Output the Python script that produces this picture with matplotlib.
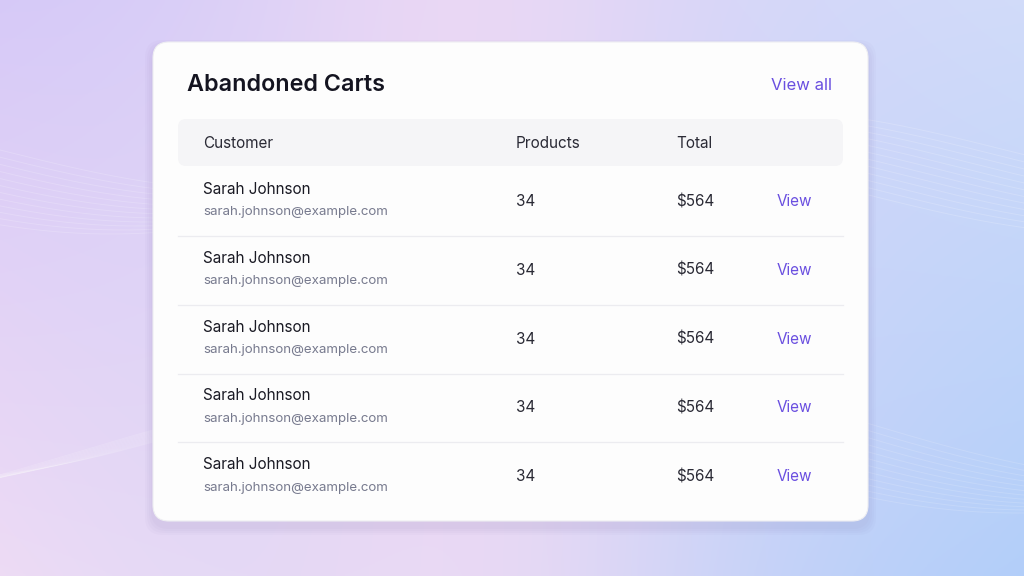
import numpy as np
import matplotlib.pyplot as plt
from matplotlib.patches import FancyBboxPatch

plt.rcParams['font.family'] = ['Inter', 'DejaVu Sans']

title = "Abandoned Carts"
link_text = "View all"
headers = ["Customer", "Products", "Total"]
names = ["Sarah Johnson"] * 5
emails = ["sarah.johnson@example.com"] * 5
products = [34, 34, 34, 34, 34]
totals = ["$564", "$564", "$564", "$564", "$564"]
action = "View"

W, H = 1024, 576
fig = plt.figure(figsize=(W / 100, H / 100), dpi=100)
ax = fig.add_axes([0, 0, 1, 1])
ax.set_xlim(0, W)
ax.set_ylim(H, 0)
ax.axis('off')

# background gradient
yy, xx = np.mgrid[0:1:200j, 0:1:360j]
c_tl = np.array([0.84, 0.79, 0.97])
c_tm = np.array([0.97, 0.86, 0.95])
c_br = np.array([0.70, 0.81, 0.98])
c_bl = np.array([0.93, 0.86, 0.96])
img = ((1 - xx)[..., None] * (1 - yy)[..., None] * c_tl
       + xx[..., None] * (1 - yy)[..., None] * np.array([0.82, 0.86, 0.98])
       + (1 - xx)[..., None] * yy[..., None] * c_bl
       + xx[..., None] * yy[..., None] * c_br)
mid = np.exp(-((xx - 0.45) ** 2) / 0.05)[..., None]
img = img * (1 - 0.6 * mid) + c_tm * 0.6 * mid
ax.imshow(img, extent=[0, W, H, 0], aspect='auto', zorder=0)

# faint wavy lines
t = np.linspace(0, W, 400)
for k in range(12):
    ax.plot(t, 150 + 40 * np.sin(t / 160 + k * 0.08) + k * 4, color='white', alpha=0.18, lw=0.7, zorder=1)
    ax.plot(t, 420 + 60 * np.sin(t / 200 + 2 + k * 0.07) + k * 3, color='white', alpha=0.15, lw=0.7, zorder=1)

# card with shadow
for i, a in enumerate([0.03, 0.03, 0.03, 0.03]):
    s = 4 + i * 4
    ax.add_patch(FancyBboxPatch((153 - s / 2, 48 - s / 2), 715 + s, 479 + s,
                                boxstyle="round,pad=0,rounding_size=18",
                                fc='#7a6aa0', ec='none', alpha=a, zorder=2))
ax.add_patch(FancyBboxPatch((153, 42), 715, 479, boxstyle="round,pad=0,rounding_size=16",
                            fc='#fdfdfd', ec='#eeeef2', lw=0.8, zorder=3))

ax.text(187, 85, title, fontsize=16.8, fontweight='semibold', color='#141420', va='center', zorder=5)
ax.text(832, 85, link_text, fontsize=12, color='#6a4fe0', va='center', ha='right', zorder=5)

# header band
ax.add_patch(FancyBboxPatch((178, 119), 665, 47, boxstyle="round,pad=0,rounding_size=8",
                            fc='#f5f5f7', ec='none', zorder=4))
for h, x in zip(headers, [203, 516, 676]):
    ax.text(x, 143, h, fontsize=11, color='#2a2a35', va='center', zorder=5)

row_h = 68.8
y0 = 201.5
for i in range(len(names)):
    yc = y0 + i * row_h
    ax.text(203, yc - 12, names[i], fontsize=11, color='#1a1a24', va='center', zorder=5)
    ax.text(203, yc + 11, emails[i], fontsize=9.6, color='#777a8e', va='center', zorder=5)
    ax.text(516, yc, str(products[i]), fontsize=11, color='#2a2a35', va='center', zorder=5)
    ax.text(676, yc, totals[i], fontsize=11, color='#2a2a35', va='center', zorder=5)
    ax.text(777, yc, action, fontsize=11, color='#6a4fe0', va='center', zorder=5)
    if i < len(names) - 1:
        ax.plot([178, 843], [yc + row_h / 2, yc + row_h / 2], color='#ececf0', lw=0.9, zorder=5)

fig.savefig('out.png', dpi=100)
